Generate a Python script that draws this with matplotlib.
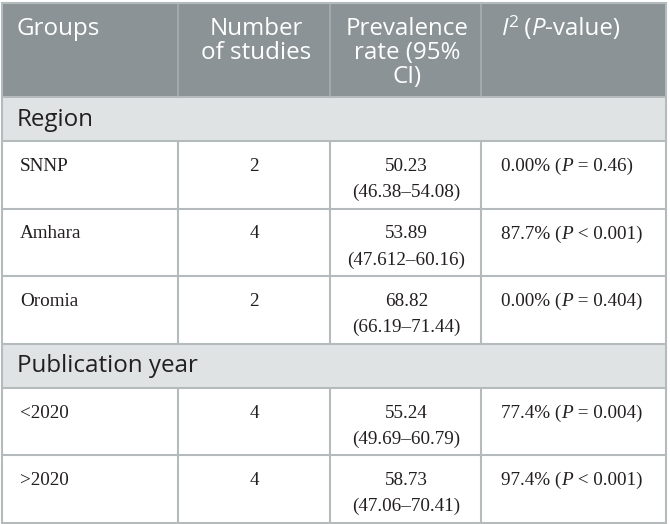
import matplotlib
matplotlib.use("Agg")
import matplotlib.pyplot as plt
from matplotlib.patches import Rectangle

# ---------------- data ----------------
header_cols = ["Groups", "Number\nof studies", "Prevalence\nrate (95%\nCI)"]
categories = ["Region", "Publication year"]
category_rows = [[0, 1, 2], [3, 4]]          # indices of groups under each category
groups = ["SNNP", "Amhara", "Oromia", "<2020", ">2020"]
n_studies = [2, 4, 2, 4, 4]
prevalence = ["50.23", "53.89", "68.82", "55.24", "58.73"]
ci_low = ["46.38", "47.612", "66.19", "49.69", "47.06"]
ci_high = ["54.08", "60.16", "71.44", "60.79", "70.41"]
i2_values = ["0.00%", "87.7%", "0.00%", "77.4%", "97.4%"]
p_ops = ["=", "<", "=", "=", "<"]
p_values = ["0.46", "0.001", "0.404", "0.004", "0.001"]

# ---------------- layout ----------------
W, H = 670, 524
fig = plt.figure(figsize=(W / 100, H / 100), dpi=100)
ax = fig.add_axes([0, 0, 1, 1])
ax.set_xlim(0, W)
ax.set_ylim(H, 0)
ax.axis("off")

SANS = "Open Sans"
SERIF = "Liberation Serif"
HEAD_BG = "#8b9396"
CAT_BG = "#dfe3e4"
LINE = "#b5babc"
TXT = "#231f20"
HFS = 17.4
BFS = 13.8

left, right = 2, 666
col_x = [left, 178, 330, 481, right]
header_top, header_bot = 3, 97
cat_h = 44
row_h = 67.5

# build row geometry
rows = []  # (kind, top, bottom, payload)
y = header_bot
for ci, cat in enumerate(categories):
    rows.append(("cat", y, y + cat_h, cat))
    y += cat_h
    for gi in category_rows[ci]:
        rows.append(("row", y, y + row_h, gi))
        y += row_h
bottom = y

# backgrounds
ax.add_patch(Rectangle((left, header_top), right - left, header_bot - header_top,
                       facecolor=HEAD_BG, edgecolor="none", zorder=0))
for kind, t, b, p in rows:
    if kind == "cat":
        ax.add_patch(Rectangle((left, t), right - left, b - t,
                               facecolor=CAT_BG, edgecolor="none", zorder=0))

# lines
lw = 1.5
for kind, t, b, p in rows:
    ax.plot([left, right], [t, t], color=LINE, lw=lw, zorder=2, solid_capstyle="butt")
    if kind == "row":
        for xv in col_x[1:-1]:
            ax.plot([xv, xv], [t, b], color=LINE, lw=lw, zorder=2, solid_capstyle="butt")
for xv in col_x[1:-1]:
    ax.plot([xv, xv], [header_top, header_bot], color="#a3a9ac", lw=lw, zorder=1)
ax.add_patch(Rectangle((left, header_top), right - left, bottom - header_top,
                       facecolor="none", edgecolor=LINE, lw=lw, zorder=3))


def rich(x, yb, pieces, color):
    """pieces: list of (text, dict(font props)); left aligned baseline chain."""
    s0, p0 = pieces[0]
    t = ax.text(x, yb, s0, ha="left", va="baseline", color=color, **p0)
    base = t
    for s, p in pieces[1:]:
        p = dict(p)
        rise = p.pop("rise", None)
        if rise is not None:
            t = ax.annotate(s, xy=(1, rise), xycoords=t, va="bottom", ha="left",
                            color=color, **p)
        else:
            t = ax.annotate(s, xy=(1, 0), xycoords=(t, base), va="bottom", ha="left",
                            color=color, **p)
            base = t


# header
hb = [35, 59, 83]
ax.text(17, hb[0], header_cols[0], family=SANS, fontsize=HFS, color="white",
        ha="left", va="baseline")
for ci in (1, 2):
    cx = (col_x[ci] + col_x[ci + 1]) / 2 + 2
    for li, line in enumerate(header_cols[ci].split("\n")):
        ax.text(cx, hb[li], line, family=SANS, fontsize=HFS, color="white",
                ha="center", va="baseline")
hs = dict(family=SANS, fontsize=HFS)
hi = dict(family=SANS, fontsize=HFS, style="italic")
rich(502, hb[0], [("I", hi), ("2", dict(family=SANS, fontsize=HFS * 0.72, rise=0.4)),
                  (" (", hs), ("P", hi), ("-value)", hs)], "white")

# body
bs = dict(family=SERIF, fontsize=BFS)
bi = dict(family=SERIF, fontsize=BFS, style="italic")
for kind, t, b, p in rows:
    if kind == "cat":
        ax.text(17, t + 29, p, family=SANS, fontsize=HFS, color=TXT,
                ha="left", va="baseline")
        continue
    gi = p
    y1 = t + 30
    y2 = t + 56
    ax.text(20, y1, groups[gi], ha="left", va="baseline", color=TXT, **bs)
    ax.text((col_x[1] + col_x[2]) / 2, y1, str(n_studies[gi]), ha="center",
            va="baseline", color=TXT, **bs)
    cx = (col_x[2] + col_x[3]) / 2 + 1
    ax.text(cx, y1, prevalence[gi], ha="center", va="baseline", color=TXT, **bs)
    ax.text(cx, y2, f"({ci_low[gi]}\u2013{ci_high[gi]})", ha="center",
            va="baseline", color=TXT, **bs)
    rich(501, y1, [(f"{i2_values[gi]} (", bs), ("P", bi),
                   (f" {p_ops[gi]} {p_values[gi]})", bs)], TXT)

fig.savefig("out.png", dpi=100, facecolor="white")
